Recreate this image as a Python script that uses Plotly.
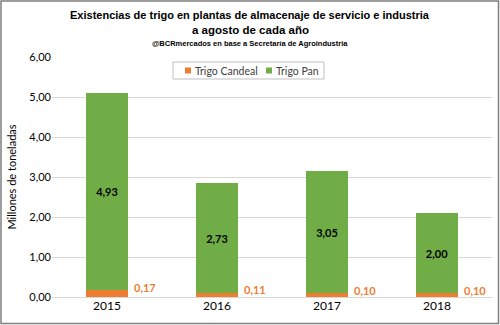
import plotly.graph_objects as go

years = ["2015", "2016", "2017", "2018"]
candeal = [0.17, 0.11, 0.10, 0.10]
pan = [4.93, 2.73, 3.05, 2.00]
y_ticks = [0, 1, 2, 3, 4, 5, 6]
series_names = ["Trigo Candeal", "Trigo Pan"]

W, H = 500, 325
L, R, T, B = 52, 8, 57, 28
pw, ph = W - L - R, H - T - B

green = "#70ad47"
orange = "#ed7d31"
base_font = "Lato, Calibri, sans-serif"
title_font = "Liberation Sans, Arial, sans-serif"


def px_x(x):
    return (x - L) / pw


def px_y(y):
    return (H - B - y) / ph


fig = go.Figure()
fig.add_trace(go.Bar(
    x=years, y=candeal, name=series_names[0],
    marker=dict(color=orange, line=dict(width=0)),
    hoverinfo="skip",
))
fig.add_trace(go.Bar(
    x=years, y=pan, name=series_names[1],
    marker=dict(color=green, line=dict(width=0)),
    texttemplate="<b>%{y:.2f}</b>",
    textposition="inside", insidetextanchor="middle",
    textfont=dict(color="#000000", size=11, family=base_font),
    hoverinfo="skip",
))

# Candeal values written beside each bar
for i, v in enumerate(candeal):
    fig.add_annotation(
        x=i, y=v, xref="x", yref="y",
        text=("<b>%.2f</b>" % v).replace(".", ","),
        showarrow=False, xshift=38, yshift=3, yanchor="middle",
        font=dict(color=orange, size=11, family=base_font),
    )

# Titles
for text, ypx, size in [
    ("<b>Existencias de trigo en plantas de almacenaje de servicio e industria</b>", 15, 11),
    ("<b>a agosto de cada año</b>", 30, 11.5),
    ("<b>@BCRmercados en base a Secretaría de Agroindustria</b>", 44, 7.5),
]:
    fig.add_annotation(
        xref="paper", yref="paper", x=px_x(250), y=px_y(ypx),
        text=text, showarrow=False,
        font=dict(size=size, family=title_font, color="#000"),
        xanchor="center", yanchor="middle",
    )

# Legend box with swatches
fig.add_shape(
    type="rect", xref="paper", yref="paper",
    x0=px_x(173), x1=px_x(324), y0=px_y(79), y1=px_y(62),
    line=dict(color="#bfbfbf", width=1), fillcolor="white",
)
for name, color, sx in [(series_names[0], orange, 185), (series_names[1], green, 266)]:
    fig.add_shape(
        type="rect", xref="paper", yref="paper",
        x0=px_x(sx), x1=px_x(sx + 6), y0=px_y(73.5), y1=px_y(67.5),
        line=dict(width=0), fillcolor=color,
    )
    fig.add_annotation(
        xref="paper", yref="paper", x=px_x(sx + 8), y=px_y(70.5),
        text=name, showarrow=False, xanchor="left", yanchor="middle",
        font=dict(size=10.5, family=base_font, color="#404040"),
    )

# Outer frame
fig.add_shape(
    type="rect", xref="paper", yref="paper",
    x0=px_x(1), x1=px_x(W - 1.5),
    y0=px_y(H - 1.5), y1=px_y(1),
    line=dict(color="#7f7f7f", width=1.5), fillcolor="rgba(0,0,0,0)",
)

fig.update_layout(
    width=W, height=H,
    margin=dict(l=L, r=R, t=T, b=B),
    barmode="stack", bargap=0.61,
    separators=",.",
    plot_bgcolor="white", paper_bgcolor="white",
    font=dict(family=base_font, size=12, color="#404040"),
    showlegend=False,
    xaxis=dict(
        type="category", range=[-0.5, 3.5], showgrid=False,
        showline=False, ticks="", tickfont=dict(size=12, color="#000"),
    ),
    yaxis=dict(
        range=[0, 6], tickvals=y_ticks, tickformat=".2f",
        showgrid=True, gridcolor="#d9d9d9", gridwidth=1,
        zeroline=True, zerolinecolor="#d9d9d9", zerolinewidth=1,
        showline=False, ticks="", tickfont=dict(size=11, color="#000"),
        title=dict(text="Millones de toneladas", font=dict(size=11, color="#000"), standoff=10),
    ),
)

fig.write_html("out.html")
